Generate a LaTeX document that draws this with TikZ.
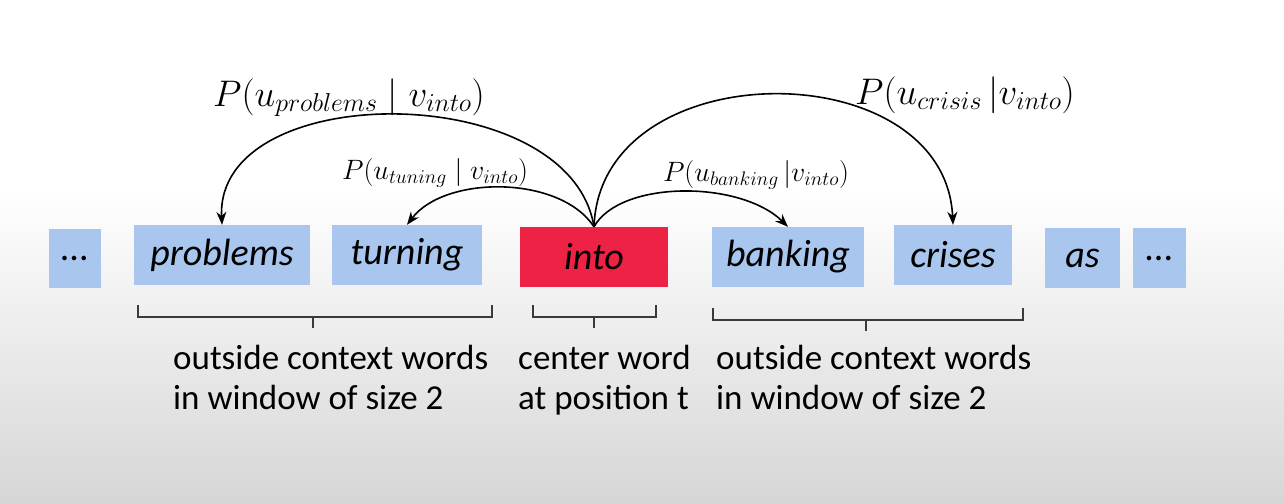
\RequirePackage{fix-cm}
\documentclass[tikz,border=0pt]{standalone}
\usepackage{fontspec}
\setmainfont{Carlito}
\usetikzlibrary{arrows.meta}
\definecolor{boxblue}{HTML}{A9C6EE}
\definecolor{boxred}{HTML}{EE2244}
\definecolor{bgbot}{HTML}{D6D6D6}
\definecolor{bracecol}{HTML}{3A3A3A}
\begin{document}
\begin{tikzpicture}[x=1pt,y=-1pt,
  word/.style={fill=boxblue, minimum height=60pt, inner sep=0pt,
    font=\fontsize{38}{38}\selectfont\itshape},
  center/.style={word, fill=boxred},
  arc/.style={line width=1.6pt, -{Stealth[length=13pt,width=10pt]}},
  bracepath/.style={line width=1.6pt, draw=bracecol},
  lbl/.style={font=\fontsize{35}{35}\selectfont, inner sep=0pt, anchor=base west},
  bigp/.style={font=\fontsize{37}{37}\selectfont, inner sep=0pt, anchor=base},
  smallp/.style={font=\fontsize{28}{28}\selectfont, inner sep=0pt, anchor=base}]
\useasboundingbox (0,0) rectangle (1284,503);
\fill[white] (0,0) rectangle (1284,190);
\shade[top color=white, bottom color=bgbot] (0,190) rectangle (1284,503);

% words
\node[word, minimum width=52pt, minimum height=59pt] (d1) at (75,258.5) {...};
\node[word, minimum width=176pt] (problems) at (222,255) {problems};
\node[word, minimum width=150pt] (turning) at (407,255) {turning};
\node[center, minimum width=148pt] (into) at (594,257) {into};
\node[word, minimum width=152pt] (banking) at (788,257) {banking};
\node[word, minimum width=118pt] (crises) at (953,255) {crises};
\node[word, minimum width=75pt] (as) at (1082.5,258) {as};
\node[word, minimum width=53pt] (d2) at (1159.5,258) {...};

% arcs
\draw[arc] (into.north) .. controls (570,78) and (215,78) .. (problems.north);
\draw[arc] (into.north) .. controls (560,175) and (445,175) .. (turning.north);
\draw[arc] (into.north) .. controls (620,180) and (740,180) .. (banking.north);
\draw[arc] (into.north) .. controls (600,51) and (945,51) .. (crises.north);

% probability labels
\node[bigp] (pprob) at (349,106) {$P(u_{problems}\mid v_{into})$};
\node[smallp] (ptun) at (435,179) {$P(u_{tuning}\mid v_{into})$};
\node[smallp] (pbank) at (756,181) {$P(u_{banking}\,|v_{into})$};
\node[bigp] (pcris) at (965,104) {$P(u_{crisis}\,|v_{into})$};

% braces
\draw[bracepath] (138,305) -- (138,317) -- (492,317) -- (492,305);
\draw[bracepath] (313,317) -- (313,328);
\draw[bracepath] (533,305) -- (533,317) -- (656,317) -- (656,305);
\draw[bracepath] (594,317) -- (594,328);
\draw[bracepath] (713,308) -- (713,320) -- (1023,320) -- (1023,308);
\draw[bracepath] (866,320) -- (866,331);

% captions
\node[lbl] (l1) at (173,369) {outside context words};
\node[lbl] (l2) at (173,409) {in window of size 2};
\node[lbl] (c1) at (518,369) {center word};
\node[lbl] (c2) at (518,409) {at position t};
\node[lbl] (r1) at (716,369) {outside context words};
\node[lbl] (r2) at (716,409) {in window of size 2};
\end{tikzpicture}
\end{document}
